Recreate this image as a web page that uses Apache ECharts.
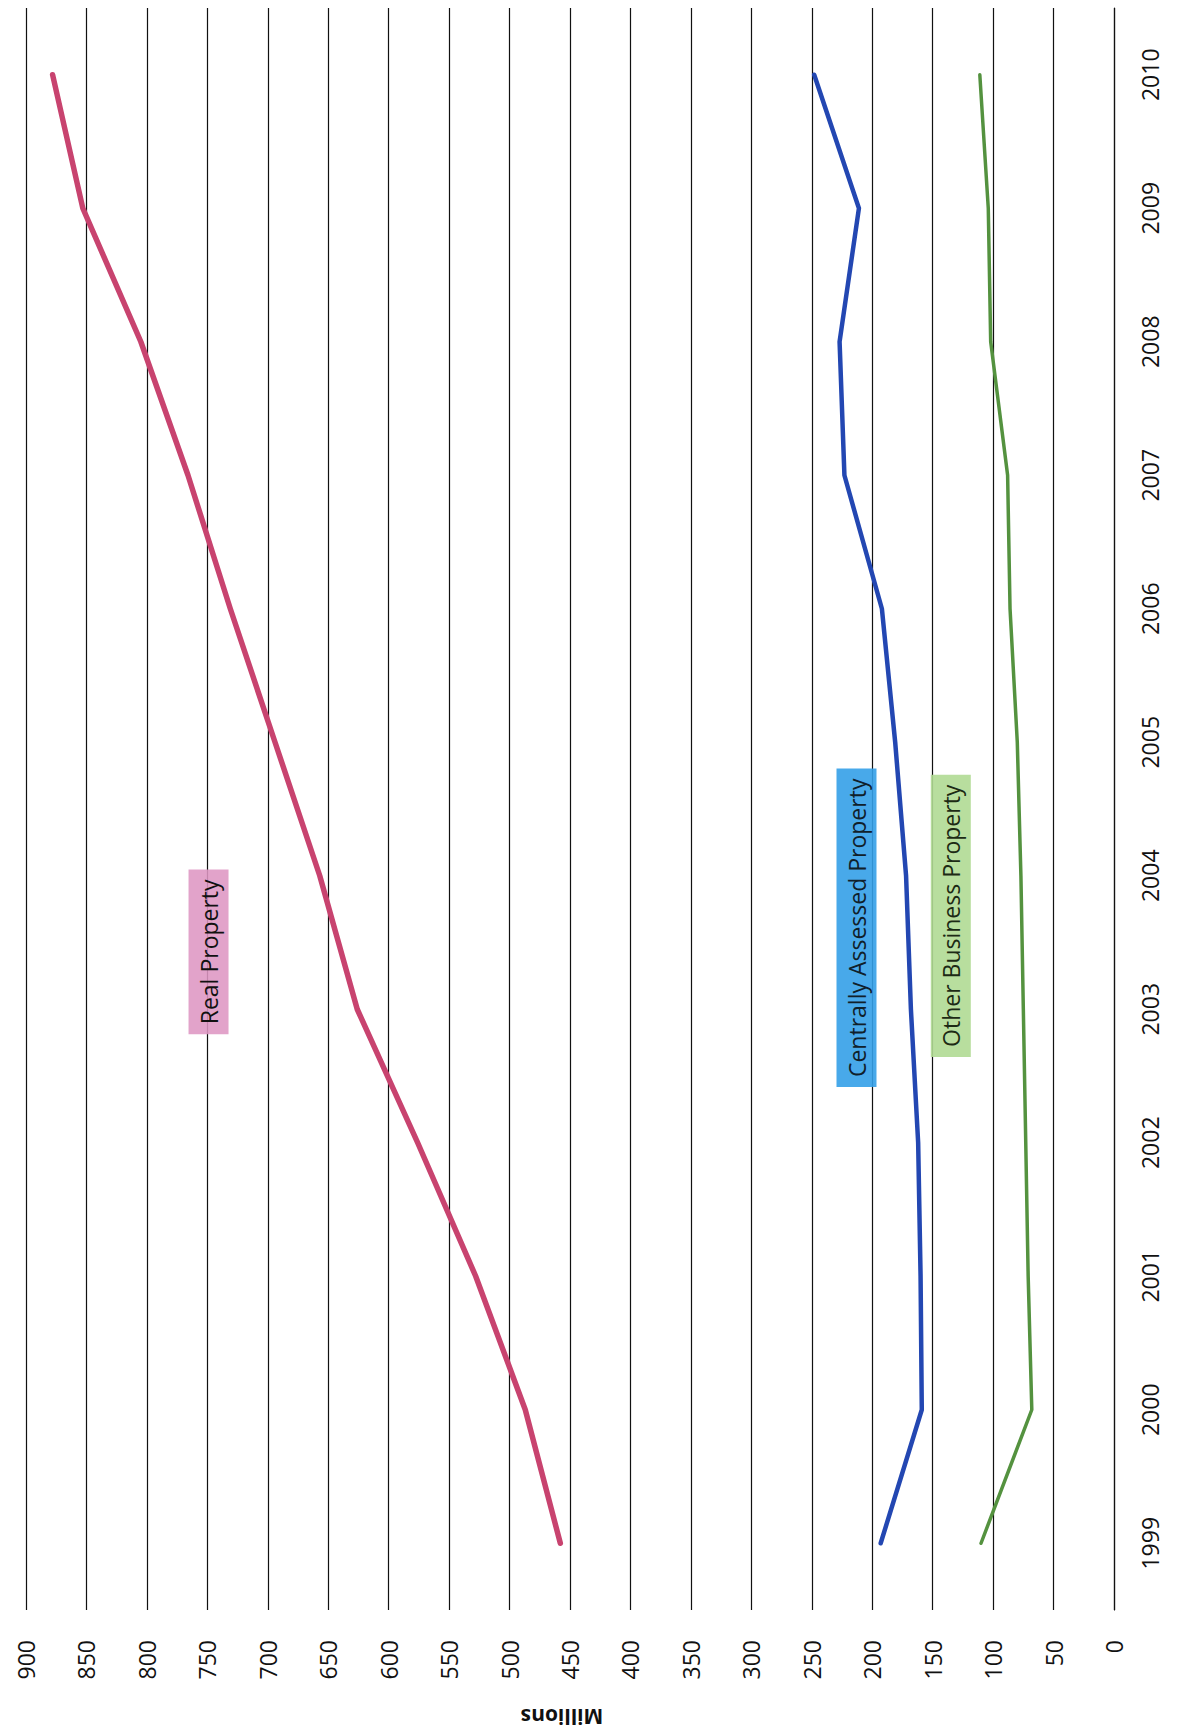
<!DOCTYPE html>
<html>
<head>
<meta charset="utf-8">
<script src="https://cdn.jsdelivr.net/npm/echarts@6/dist/echarts.min.js"></script>
<style>
  html, body { margin: 0; padding: 0; background: #ffffff; }
  #chart { width: 1177px; height: 1735px; }
</style>
</head>
<body>
<div id="chart"></div>
<script>
// ---- data ----
const years = ['1999','2000','2001','2002','2003','2004','2005','2006','2007','2008','2009','2010'];
const realProperty      = [458, 487, 528, 576, 626, 657, 694, 731, 766, 805, 853, 878];
const centrallyAssessed = [193, 159, 160, 162, 168, 172, 181, 192, 223, 227, 211, 248];
const otherBusiness     = [110, 68, 71, 73, 75, 77, 80, 86, 88, 102, 104, 111];
const valueMin = 0;
const valueMax = 900;
const valueStep = 50;
const axisTitle = 'Millions';

// series label annotations (data-space anchors: value, fractional year index)
const labelNames  = ['Real Property', 'Centrally Assessed Property', 'Other Business Property'];
const labelValues = [749, 213, 135];
const labelYearPos = [4.43, 4.61, 4.70];

const seriesColors = ['#c8436f', '#2347b2', '#54923f'];
const boxColors = ['rgba(222,150,195,0.88)', 'rgba(52,160,232,0.9)', 'rgba(176,218,148,0.9)'];
const textColors = ['#111111', '#10202a', '#1c2a14'];

const FONT = 'Open Sans';

const chart = echarts.init(document.getElementById('chart'), null, { renderer: 'svg' });

function pairs(vals) { return vals.map((v, i) => [v, years[i]]); }

const option = {
  backgroundColor: '#ffffff',
  animation: false,
  grid: {
    left: 26, right: 63, top: 8, bottom: 125,
    containLabel: false,
    outerBoundsMode: 'none'
  },
  xAxis: {
    type: 'value',
    inverse: true,
    min: valueMin, max: valueMax, interval: valueStep,
    position: 'bottom',
    axisLine: { show: false },
    axisTick: { show: false },
    splitLine: { show: true, lineStyle: { color: '#111111', width: 1.2 } },
    axisLabel: {
      rotate: 90, margin: 30, fontSize: 23, fontFamily: FONT, color: '#111111'
    },
    name: axisTitle,
    nameLocation: 'middle',
    nameRotate: 180,
    nameGap: 96,
    nameTextStyle: {
      fontSize: 21, fontWeight: 'bold', fontFamily: FONT, color: '#111111',
      padding: [0, 0, 0, 16]
    }
  },
  yAxis: {
    type: 'category',
    data: years,
    position: 'right',
    boundaryGap: true,
    axisLine: { show: true, lineStyle: { color: '#111111', width: 1.2 } },
    axisTick: { show: false },
    splitLine: { show: false },
    axisLabel: {
      rotate: 90, margin: 24, fontSize: 23, fontFamily: FONT, color: '#111111'
    }
  },
  series: [
    {
      name: labelNames[0], type: 'line', data: pairs(realProperty),
      symbol: 'none', smooth: false,
      lineStyle: { color: seriesColors[0], width: 5.5, cap: 'round', join: 'round' },
      z: 3
    },
    {
      name: labelNames[1], type: 'line', data: pairs(centrallyAssessed),
      symbol: 'none', smooth: false,
      lineStyle: { color: seriesColors[1], width: 4.5, cap: 'round', join: 'round' },
      z: 3
    },
    {
      name: labelNames[2], type: 'line', data: pairs(otherBusiness),
      symbol: 'none', smooth: false,
      lineStyle: { color: seriesColors[2], width: 3.5, cap: 'round', join: 'round' },
      z: 3
    }
  ]
};

chart.setOption(option);

// place the rotated series-name boxes using the chart's own scales
const graphics = labelNames.map((name, i) => {
  const f = labelYearPos[i];
  const i0 = Math.floor(f);
  const t = f - i0;
  const a = chart.convertToPixel({ gridIndex: 0 }, [labelValues[i], i0]);
  const b = chart.convertToPixel({ gridIndex: 0 }, [labelValues[i], i0 + 1]);
  return {
    type: 'text',
    x: a[0] + (b[0] - a[0]) * t,
    y: a[1] + (b[1] - a[1]) * t,
    rotation: Math.PI / 2,
    z: 10,
    style: {
      text: name,
      fontSize: 23,
      fontFamily: FONT,
      fill: textColors[i],
      backgroundColor: boxColors[i],
      padding: [7, 10],
      lineHeight: 26,
      align: 'center',
      verticalAlign: 'middle',
      textAlign: 'center',
      textVerticalAlign: 'middle'
    }
  };
});
chart.setOption({ graphic: graphics });
</script>
</body>
</html>
